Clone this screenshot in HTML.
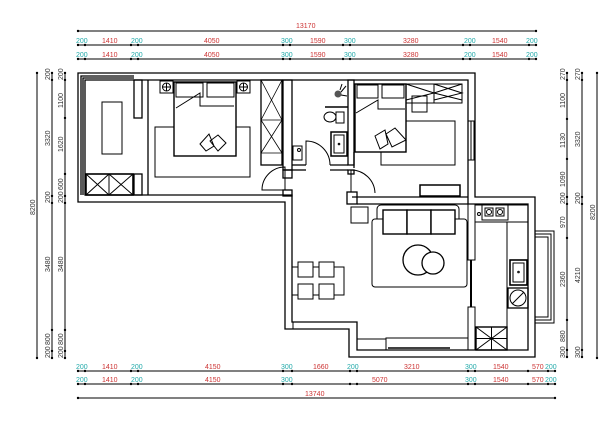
<!DOCTYPE html>
<html><head><meta charset="utf-8"><style>
html,body{margin:0;padding:0;background:#fff;width:614px;height:427px;overflow:hidden}
svg{display:block}
text{font-family:"Liberation Sans",sans-serif;font-size:7px;fill:#333}
.r{fill:#c33}.b{fill:#2aa}
</style></head><body>
<svg width="614" height="427" viewBox="0 0 614 427" xmlns="http://www.w3.org/2000/svg">
<g stroke="#000" stroke-width="1" fill="none">
<!-- top dims -->
<line x1="78" y1="31" x2="536" y2="31"/>
<line x1="78" y1="45" x2="536" y2="45"/>
<line x1="78" y1="59" x2="536" y2="59"/>
<!-- bottom dims -->
<line x1="78" y1="371" x2="555" y2="371"/>
<line x1="78" y1="384" x2="555" y2="384"/>
<line x1="78" y1="398" x2="555" y2="398"/>
<!-- left dims -->
<line x1="37" y1="73" x2="37" y2="358"/>
<line x1="52" y1="73" x2="52" y2="358"/>
<line x1="65" y1="73" x2="65" y2="358"/>
<!-- right dims -->
<line x1="567" y1="73" x2="567" y2="358"/>
<line x1="582" y1="73" x2="582" y2="358"/>
<line x1="597" y1="73" x2="597" y2="358"/>
</g>
<g fill="#000">
<!-- tick dots -->
<g id="tt">
<circle cx="78" cy="45" r="1.2"/><circle cx="85" cy="45" r="1.2"/><circle cx="131" cy="45" r="1.2"/><circle cx="138" cy="45" r="1.2"/><circle cx="283" cy="45" r="1.2"/><circle cx="290" cy="45" r="1.2"/><circle cx="343" cy="45" r="1.2"/><circle cx="350" cy="45" r="1.2"/><circle cx="463" cy="45" r="1.2"/><circle cx="470" cy="45" r="1.2"/><circle cx="529" cy="45" r="1.2"/><circle cx="536" cy="45" r="1.2"/>
</g>
<use href="#tt" y="14"/>
<circle cx="78" cy="31" r="1.2"/><circle cx="536" cy="31" r="1.2"/>
<g id="bt">
<circle cx="78" cy="371" r="1.2"/><circle cx="85" cy="371" r="1.2"/><circle cx="131" cy="371" r="1.2"/><circle cx="138" cy="371" r="1.2"/><circle cx="283" cy="371" r="1.2"/><circle cx="292" cy="371" r="1.2"/><circle cx="350" cy="371" r="1.2"/><circle cx="357" cy="371" r="1.2"/><circle cx="468" cy="371" r="1.2"/><circle cx="475" cy="371" r="1.2"/><circle cx="528" cy="371" r="1.2"/><circle cx="548" cy="371" r="1.2"/><circle cx="555" cy="371" r="1.2"/>
</g>
<use href="#bt" y="13"/>
<circle cx="78" cy="398" r="1.2"/><circle cx="555" cy="398" r="1.2"/>
<g id="lt"><circle cx="52" cy="73" r="1.2"/><circle cx="52" cy="80" r="1.2"/><circle cx="52" cy="196" r="1.2"/><circle cx="52" cy="203" r="1.2"/><circle cx="52" cy="330" r="1.2"/><circle cx="52" cy="351" r="1.2"/><circle cx="52" cy="358" r="1.2"/></g>
<use href="#lt" x="13"/>
<circle cx="65" cy="118" r="1.2"/><circle cx="65" cy="174" r="1.2"/><circle cx="37" cy="73" r="1.2"/><circle cx="37" cy="358" r="1.2"/>
<g id="rt"><circle cx="567" cy="73" r="1.2"/><circle cx="567" cy="80" r="1.2"/><circle cx="567" cy="197" r="1.2"/><circle cx="567" cy="204" r="1.2"/><circle cx="567" cy="350" r="1.2"/><circle cx="567" cy="357" r="1.2"/></g>
<use href="#rt" x="15"/>
<circle cx="567" cy="119" r="1.2"/><circle cx="567" cy="159" r="1.2"/><circle cx="567" cy="238" r="1.2"/><circle cx="567" cy="320" r="1.2"/><circle cx="597" cy="73" r="1.2"/><circle cx="597" cy="358" r="1.2"/>
</g>
<!-- top dim text -->
<text x="296" y="28" class="r">13170</text>
<g id="tx"><text x="76" y="43" class="b">200</text><text x="102" y="43" class="r">1410</text><text x="131" y="43" class="b">200</text><text x="204" y="43" class="r">4050</text><text x="281" y="43" class="b">300</text><text x="310" y="43" class="r">1590</text><text x="344" y="43" class="b">300</text><text x="403" y="43" class="r">3280</text><text x="464" y="43" class="b">200</text><text x="492" y="43" class="r">1540</text><text x="526" y="43" class="b">200</text></g>
<use href="#tx" y="14"/>
<!-- bottom dim text -->
<text x="76" y="369" class="b">200</text><text x="102" y="369" class="r">1410</text><text x="131" y="369" class="b">200</text><text x="205" y="369" class="r">4150</text><text x="281" y="369" class="b">300</text><text x="313" y="369" class="r">1660</text><text x="347" y="369" class="b">200</text><text x="404" y="369" class="r">3210</text><text x="465" y="369" class="b">300</text><text x="493" y="369" class="r">1540</text><text x="532" y="369" class="r">570</text><text x="545" y="369" class="b">200</text>
<text x="76" y="382" class="b">200</text><text x="102" y="382" class="r">1410</text><text x="131" y="382" class="b">200</text><text x="205" y="382" class="r">4150</text><text x="281" y="382" class="b">300</text><text x="372" y="382" class="r">5070</text><text x="465" y="382" class="b">300</text><text x="493" y="382" class="r">1540</text><text x="532" y="382" class="r">570</text><text x="545" y="382" class="b">200</text>
<text x="305" y="396" class="r">13740</text>
<!-- left dim text rotated -->
<g font-size="7">
<text transform="translate(35,215) rotate(-90)">8200</text>
<text transform="translate(50,80) rotate(-90)">200</text><text transform="translate(50,146) rotate(-90)">3320</text><text transform="translate(50,203) rotate(-90)">200</text><text transform="translate(50,272) rotate(-90)">3480</text><text transform="translate(50,345) rotate(-90)">800</text><text transform="translate(50,358) rotate(-90)">200</text>
<text transform="translate(63,80) rotate(-90)">200</text><text transform="translate(63,108) rotate(-90)">1100</text><text transform="translate(63,152) rotate(-90)">1620</text><text transform="translate(63,190) rotate(-90)">600</text><text transform="translate(63,203) rotate(-90)">200</text><text transform="translate(63,272) rotate(-90)">3480</text><text transform="translate(63,345) rotate(-90)">800</text><text transform="translate(63,358) rotate(-90)">200</text>
<text transform="translate(565,80) rotate(-90)">270</text><text transform="translate(565,108) rotate(-90)">1100</text><text transform="translate(565,148) rotate(-90)">1130</text><text transform="translate(565,187) rotate(-90)">1090</text><text transform="translate(565,204) rotate(-90)">200</text><text transform="translate(565,228) rotate(-90)">970</text><text transform="translate(565,287) rotate(-90)">2360</text><text transform="translate(565,342) rotate(-90)">880</text><text transform="translate(565,358) rotate(-90)">300</text>
<text transform="translate(580,80) rotate(-90)">270</text><text transform="translate(580,147) rotate(-90)">3320</text><text transform="translate(580,204) rotate(-90)">200</text><text transform="translate(580,283) rotate(-90)">4210</text><text transform="translate(580,358) rotate(-90)">300</text>
<text transform="translate(595,220) rotate(-90)">8200</text>
</g>
<!-- walls -->
<g stroke="#000" stroke-width="1.3" fill="none">
<polygon points="78,73 475,73 475,197 535,197 535,357 349,357 349,329 285,329 285,202 78,202"/>
<polygon points="85,80 468,80 468,204 528,204 528,350 357,350 357,322 292,322 292,195 85,195"/>
<!-- balcony left layered -->
<polyline points="81,195 81,76 134,76"/>
<polyline points="83,195 83,78 134,78"/>
<rect x="134" y="80" width="8" height="38"/>
<rect x="134" y="174" width="8" height="21"/>
<line x1="148" y1="80" x2="148" y2="195"/>
<!-- balcony desk and cabinet -->
<rect x="102" y="102" width="20" height="52" stroke-width="1"/>
<rect x="86" y="174" width="47" height="21" stroke-width="1.6"/>
<path d="M86,174 L109,195 M109,174 L86,195 M109,174 L133,195 M133,174 L109,195 M109,174 V195" stroke-width="1"/>
<!-- wardrobe -->
<rect x="261" y="80" width="21" height="85"/>
<path d="M261,80 L282,120 M282,80 L261,120 M261,120 H282 M261,120 L282,153 M282,120 L261,153 M261,153 H282" stroke-width="0.8"/>
<!-- bath walls -->
<rect x="283" y="80" width="9" height="90"/>
<rect x="348" y="80" width="6" height="85"/>
<line x1="292" y1="165" x2="306" y2="165"/>
<line x1="330" y1="165" x2="348" y2="165"/>
<line x1="292" y1="170" x2="306" y2="170"/>
<line x1="330" y1="170" x2="348" y2="170"/>
<!-- hall lower walls -->
<rect x="283" y="170" width="9" height="8"/>
<rect x="283" y="190" width="9" height="6"/>
<rect x="348" y="170" width="6" height="4"/>
<rect x="347" y="192" width="10" height="12"/>
<line x1="357" y1="204" x2="468" y2="204"/>
<line x1="352" y1="197" x2="468" y2="197"/>
<line x1="354" y1="152" x2="354" y2="168"/>
</g>
<g stroke="#000" stroke-width="1" fill="none">
<!-- doors -->
<path d="M285,167 A23,23 0 0 0 262,190 H285 Z"/>
<path d="M306,165 V141 A24,24 0 0 1 330,165"/>
<path d="M351,170 V192 M351,170 A24,24 0 0 1 375,193"/>
<!-- left bedroom -->
<rect x="155" y="127" width="95" height="50"/>
<rect x="174" y="82" width="62" height="74" fill="#fff" stroke-width="1.4"/>
<rect x="176" y="83" width="27" height="14"/><rect x="207" y="83" width="27" height="14"/>
<path d="M176,108 L200,93 L200,106 H234"/>
<rect x="160" y="81" width="13" height="12"/><circle cx="166.5" cy="87" r="4"/><path d="M162,87h9M166.5,83v8"/>
<rect x="237" y="81" width="13" height="12"/><circle cx="243.5" cy="87" r="4"/><path d="M239,87h9M243.5,83v8"/>
<path d="M200,144 L209,134 L214,146 L206,151 Z M210,141 L218,135 L226,143 L218,151 Z"/>
<!-- bathroom -->
<circle cx="338" cy="94" r="3.5" fill="#555" stroke="none"/>
<path d="M341,92 L346,86 M341,95 L347,96 M340,90 L342,84"/>
<line x1="325" y1="107" x2="348" y2="107" stroke-width="1.6"/>
<ellipse cx="330" cy="117" rx="6" ry="5"/><rect x="336" y="112" width="8" height="11"/>
<rect x="331" y="132" width="16" height="24" stroke-width="1.5"/><rect x="334" y="135" width="10" height="18"/><circle cx="339" cy="144" r="0.8"/>
<rect x="293" y="146" width="9" height="14"/><circle cx="299" cy="150" r="1.5"/>
<!-- right bedroom -->
<rect x="381" y="121" width="74" height="44"/>
<rect x="355" y="84" width="51" height="68" fill="#fff" stroke-width="1.4"/>
<rect x="357" y="85" width="21" height="13"/><rect x="382" y="85" width="22" height="13"/>
<path d="M356,113 L378,100 L378,109 H405"/>
<path d="M375,136 L385,130 L388,144 L380,149 Z M386,134 L395,128 L406,140 L392,147 Z"/>
<rect x="406" y="84" width="56" height="19"/>
<path d="M406,84 L434,93 L406,100 M434,84 L462,93 L434,100 M434,84 V103 M434,93 L462,84 M434,93 L462,100"/>
<rect x="412" y="96" width="15" height="16"/>
<rect x="468" y="121" width="6" height="39"/><line x1="471" y1="121" x2="471" y2="160"/>
<rect x="420" y="185" width="40" height="11" stroke-width="1.5"/>
<!-- living -->
<rect x="351" y="207" width="17" height="16"/>
<rect x="377" y="205" width="82" height="32" rx="4"/>
<rect x="372" y="219" width="95" height="68" rx="3" fill="#fff"/>
<rect x="383" y="210" width="24" height="24" stroke-width="1.4" fill="#fff"/><rect x="407" y="210" width="24" height="24" stroke-width="1.4" fill="#fff"/><rect x="431" y="210" width="24" height="24" stroke-width="1.4" fill="#fff"/>
<circle cx="418" cy="260" r="15" stroke-width="1.3"/><circle cx="433" cy="263" r="11" stroke-width="1.3" fill="#fff"/>
<!-- dining -->
<rect x="292" y="267" width="52" height="28"/>
<rect x="298" y="262" width="15" height="15" fill="#fff"/><rect x="319" y="262" width="15" height="15" fill="#fff"/>
<rect x="298" y="284" width="15" height="15" fill="#fff"/><rect x="319" y="284" width="15" height="15" fill="#fff"/>
<!-- bottom window -->
<rect x="386" y="338" width="82" height="12"/><line x1="388" y1="348" x2="450" y2="348" stroke-width="1.6"/>
<line x1="357" y1="339" x2="386" y2="339"/>
<!-- kitchen partition -->
<rect x="468" y="204" width="7" height="56"/>
<rect x="468" y="307" width="7" height="43"/>
<line x1="471" y1="260" x2="471" y2="307" stroke-width="2"/>
<rect x="475" y="205" width="53" height="17"/>
<rect x="482" y="205" width="26" height="15"/>
<rect x="485" y="208" width="8" height="8"/><circle cx="489" cy="212" r="2.5"/>
<rect x="496" y="208" width="8" height="8"/><circle cx="500" cy="212" r="2.5"/>
<circle cx="479" cy="214" r="1.5"/>
<polyline points="475,222 507,222 507,350"/>
<rect x="510" y="260" width="17" height="25" stroke-width="1.6"/><rect x="513" y="263" width="11" height="19"/><circle cx="518.5" cy="272" r="0.8"/>
<rect x="508" y="288" width="20" height="20" stroke-width="1.3"/><circle cx="518" cy="298" r="8"/><line x1="512" y1="304" x2="524" y2="292"/>
<rect x="476" y="327" width="31" height="23" stroke-width="1.4"/>
<path d="M476,327 L507,350 M507,327 L476,350 M491.5,327 V350 M476,338.5 H507"/>
<!-- bay window -->
<polyline points="535,231 554,231 554,323 535,323"/>
<polyline points="535,234 551,234 551,320 535,320"/>
<polyline points="535,237 548,237 548,317 535,317"/>
<line x1="293" y1="322" x2="293" y2="329"/>
</g>
</svg>
</body></html>
